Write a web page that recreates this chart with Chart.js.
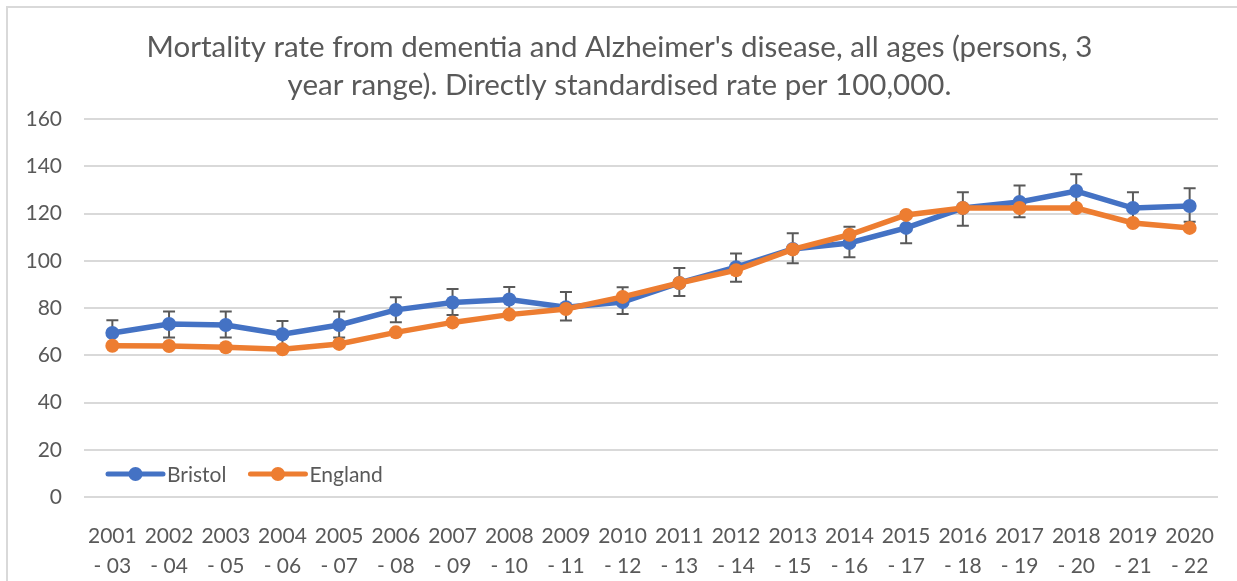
<!DOCTYPE html>
<html><head><meta charset="utf-8">
<script src="https://cdn.jsdelivr.net/npm/chart.js@4"></script>
<style>
html,body{margin:0;padding:0;background:#fff;overflow:hidden}
#wrap{position:absolute;left:0;top:0;width:1237px;height:581px}
#frame{position:absolute;left:6px;top:6px;width:1300px;height:700px;border:2px solid #d9d9d9;pointer-events:none}
</style></head><body>
<div id="wrap"><canvas id="c" width="1237" height="581" style="width:1237px;height:581px"></canvas></div>
<div id="frame"></div>
<script>
const titleLines = ["Mortality rate from dementia and Alzheimer's disease, all ages (persons, 3", "year range). Directly standardised rate per 100,000."];
const periodStart = ['2001','2002','2003','2004','2005','2006','2007','2008','2009','2010','2011','2012','2013','2014','2015','2016','2017','2018','2019','2020'];
const periodEnd = ['- 03','- 04','- 05','- 06','- 07','- 08','- 09','- 10','- 11','- 12','- 13','- 14','- 15','- 16','- 17','- 18','- 19','- 20','- 21','- 22'];
const bristol = [69.4, 73.2, 72.8, 68.9, 72.8, 79.2, 82.3, 83.6, 80.3, 82.5, 90.6, 97.3, 105.0, 107.5, 113.9, 122.3, 124.9, 129.5, 122.3, 123.2];
const bristolLower = [64.2, 67.5, 67.5, 63.8, 67.5, 74.0, 77.0, 78.0, 74.7, 77.5, 85.1, 91.1, 98.9, 101.5, 107.4, 114.8, 118.4, 122.5, 115.8, 116.5];
const bristolUpper = [74.8, 78.5, 78.5, 74.5, 78.5, 84.5, 88.0, 88.9, 86.8, 88.8, 96.9, 103.1, 111.6, 114.4, 120.5, 129.0, 131.8, 136.6, 129.0, 130.7];
const england = [64.0, 63.9, 63.4, 62.5, 64.8, 69.7, 73.9, 77.2, 79.6, 84.7, 90.6, 96.0, 104.8, 111.0, 119.4, 122.3, 122.3, 122.3, 116.0, 113.9];
const yTicks = {min: 0, max: 160, step: 20};

const labels = periodStart.map((s, i) => [s, periodEnd[i]]);
const TXT = '#595959';
const FONT = 'Lato';

const errorBars = {
  id: 'errorBars',
  beforeDatasetsDraw(chart) {
    const {ctx, scales: {x, y}} = chart;
    ctx.save();
    ctx.strokeStyle = '#595959';
    ctx.lineWidth = 2;
    bristol.forEach((v, i) => {
      const px = x.getPixelForValue(i);
      const yt = y.getPixelForValue(bristolUpper[i]);
      const yb = y.getPixelForValue(bristolLower[i]);
      ctx.beginPath();
      ctx.moveTo(px, yt); ctx.lineTo(px, yb);
      ctx.moveTo(px - 6, yt); ctx.lineTo(px + 6, yt);
      ctx.moveTo(px - 6, yb); ctx.lineTo(px + 6, yb);
      ctx.stroke();
    });
    ctx.restore();
  }
};

const insideLegend = {
  id: 'insideLegend',
  afterDraw(chart) {
    const {ctx, chartArea} = chart;
    ctx.save();
    ctx.font = '21px ' + FONT;
    ctx.textBaseline = 'middle';
    ctx.textAlign = 'left';
    let xPos = chartArea.left + 24;
    const yPos = chartArea.bottom - 23;
    chart.data.datasets.forEach(ds => {
      ctx.strokeStyle = ds.borderColor;
      ctx.lineWidth = 5;
      ctx.lineCap = 'round';
      ctx.beginPath(); ctx.moveTo(xPos, yPos); ctx.lineTo(xPos + 55, yPos); ctx.stroke();
      ctx.fillStyle = ds.borderColor;
      ctx.beginPath(); ctx.arc(xPos + 27.5, yPos, 7, 0, Math.PI * 2); ctx.fill();
      ctx.fillStyle = TXT;
      ctx.fillText(ds.label, xPos + 59, yPos + 1);
      xPos += 59 + ctx.measureText(ds.label).width + 24;
    });
    ctx.restore();
  }
};

new Chart(document.getElementById('c'), {
  type: 'line',
  data: {
    labels,
    datasets: [
      {label: 'Bristol', data: bristol, borderColor: '#4472C4', backgroundColor: '#4472C4', borderWidth: 5.5, pointRadius: 7, pointBorderWidth: 0, pointBackgroundColor: '#4472C4', order: 1, tension: 0},
      {label: 'England', data: england, borderColor: '#ED7D31', backgroundColor: '#ED7D31', borderWidth: 5.5, pointRadius: 7, pointBorderWidth: 0, pointBackgroundColor: '#ED7D31', order: 0, tension: 0}
    ]
  },
  options: {
    responsive: false,
    animation: false,
    layout: {padding: {left: 21, right: 19, top: 0, bottom: 0}},
    plugins: {
      legend: {display: false},
      tooltip: {enabled: false},
      title: {
        display: true, text: titleLines, color: TXT,
        font: {family: FONT, size: 29.5, weight: 'normal', lineHeight: 38 / 29.5},
        padding: {top: 28, bottom: 15}
      }
    },
    scales: {
      x: {
        offset: true,
        grid: {display: false},
        border: {display: false},
        ticks: {color: TXT, font: {family: FONT, size: 21, lineHeight: 30 / 21}, padding: 16, maxRotation: 0, autoSkip: false},
        afterFit(s) { s.height = 84; }
      },
      y: {
        min: yTicks.min, max: yTicks.max,
        grid: {color: '#d9d9d9', lineWidth: 2, drawTicks: false},
        border: {display: false},
        ticks: {stepSize: yTicks.step, color: TXT, font: {family: FONT, size: 21}, padding: 22},
        afterFit(s) { s.width = 63; }
      }
    }
  },
  plugins: [errorBars, insideLegend]
});
</script>
</body></html>
